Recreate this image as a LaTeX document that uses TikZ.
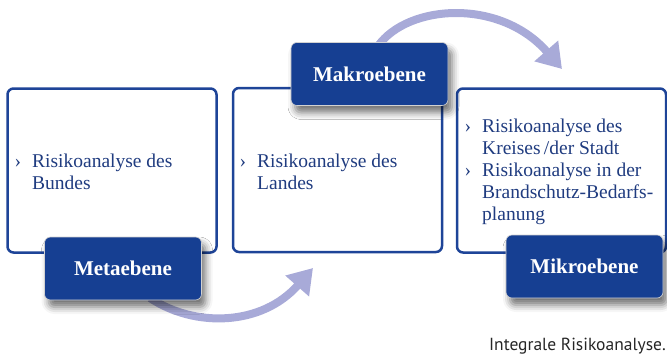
\documentclass[tikz,border=0pt]{standalone}
\usepackage{fontspec}
\setmainfont{Liberation Serif}
\newfontfamily\captionfont{PT Sans}
\usetikzlibrary{arrows.meta,shadows.blur}

\definecolor{ebeneblue}{RGB}{22,63,146}
\definecolor{rahmenblue}{RGB}{30,68,152}
\definecolor{textblue}{RGB}{32,60,128}
\definecolor{pfeilblue}{RGB}{168,170,216}

\tikzset{
  rahmen/.style={draw=rahmenblue, line width=2.5pt, rounded corners=6pt, fill=white,
    minimum width=209pt, minimum height=164pt, inner sep=0pt},
  ebene/.style={fill=ebeneblue, draw=gray!35, line width=0.6pt, rounded corners=6pt,
    minimum width=157pt, minimum height=63pt, text=white,
    font=\fontsize{21}{24}\selectfont\bfseries,
    blur shadow={shadow xshift=4pt, shadow yshift=-7pt, shadow blur radius=7pt, shadow opacity=55}},
  punkte/.style={anchor=north west, align=left, text=textblue, inner sep=0pt,
    font=\fontsize{19.5}{22}\selectfont},
  bogen/.style={draw=pfeilblue, line width=8pt, -{Triangle[length=24pt,width=30pt]}},
}
\newcommand{\punkt}{\llap{›\hspace{11pt}}}

\begin{document}
\begin{tikzpicture}[x=1pt, y=-1pt]
  \useasboundingbox (0,0) rectangle (667,356);

  % Pfeile
  \coordinate (p1start) at (150,298);
  \coordinate (p1end) at (313,268);
  \coordinate (p2start) at (378,46);
  \coordinate (p2end) at (562,69);
  \draw[bogen] (p1start) .. controls (195,328) and (262,326) .. (p1end);
  \draw[bogen] (p2start) .. controls (408,4) and (500,-2) .. (p2end);

  % Rahmen
  \node[rahmen] (bund) at (112,170.5) {};
  \node[rahmen] (land) at (337.5,170) {};
  \node[rahmen] (kreis) at (561.5,170.5) {};

  % Texte
  \node[punkte] (bundtext) at (32,154) {\punkt Risikoanalyse des\\Bundes};
  \node[punkte] (landtext) at (257,154) {\punkt Risikoanalyse des\\Landes};
  \node[punkte] (kreistext) at (482,119)
    {\punkt Risikoanalyse des\\Kreises\,/der Stadt\\\punkt Risikoanalyse in der\\Brandschutz-Bedarfs-\\planung};

  % Ebenen
  \node[ebene] (meta) at (123,268.5) {Metaebene};
  \node[ebene] (makro) at (369.5,74) {Makroebene};
  \node[ebene] (mikro) at (584.5,266.5) {Mikroebene};

  \node[anchor=base east, inner sep=0pt, text=black!85,
    font=\captionfont\fontsize{17.5}{20}\selectfont] (titel) at (666,350) {Integrale Risikoanalyse.};
\end{tikzpicture}
\end{document}
